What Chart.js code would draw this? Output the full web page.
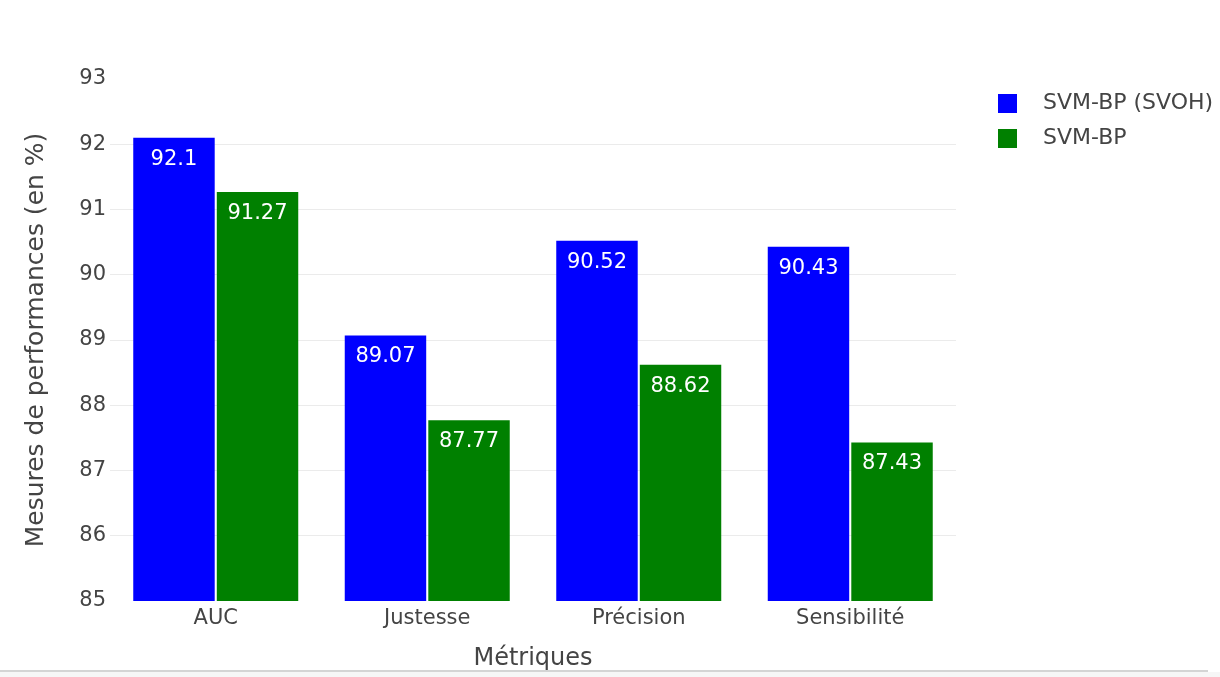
<!DOCTYPE html>
<html>
<head>
<meta charset="utf-8">
<script src="https://cdn.jsdelivr.net/npm/chart.js@4.4.0/dist/chart.umd.min.js"></script>
<style>
  body { margin: 0; background: #fff; }
  #wrap { position: relative; width: 1220px; height: 677px; }
  #bottom-line { position: absolute; left: 0; top: 670px; width: 1208px; height: 2px; background: #d4d4d4; }
  #bottom-strip { position: absolute; left: 0; top: 672px; width: 1220px; height: 5px; background: #f6f6f6; }
</style>
</head>
<body>
<div id="wrap">
  <canvas id="chart"></canvas>
  <div id="bottom-line"></div>
  <div id="bottom-strip"></div>
</div>
<script>
const categories = ['AUC', 'Justesse', 'Précision', 'Sensibilité'];
const seriesNames = ['SVM-BP (SVOH)', 'SVM-BP'];
const svohValues = [92.1, 89.07, 90.52, 90.43];
const svmValues = [91.27, 87.77, 88.62, 87.43];
const seriesColors = ['#0000ff', '#008000'];
const yMin = 85;
const yMax = 93;

const FONT = "'DejaVu Sans', Verdana, sans-serif";
const TEXT = '#444444';

// value text written inside the top of each bar
const barLabels = {
    id: 'barLabels',
    afterDatasetsDraw(chart) {
        const ctx = chart.ctx;
        ctx.save();
        ctx.font = `21px ${FONT}`;
        ctx.fillStyle = '#ffffff';
        ctx.textAlign = 'center';
        ctx.textBaseline = 'alphabetic';
        chart.data.datasets.forEach((ds, i) => {
            chart.getDatasetMeta(i).data.forEach((bar, j) => {
                ctx.fillText(String(ds.data[j]), bar.x, bar.y + 27);
            });
        });
        ctx.restore();
    }
};

// plotly-like legend on the right
const sideLegend = {
    id: 'sideLegend',
    afterDraw(chart) {
        const ctx = chart.ctx;
        ctx.save();
        ctx.font = `22px ${FONT}`;
        ctx.textAlign = 'left';
        ctx.textBaseline = 'middle';
        chart.data.datasets.forEach((ds, i) => {
            const cy = 103.5 + i * 35;
            ctx.fillStyle = ds.backgroundColor;
            ctx.fillRect(998, cy - 9.5, 19, 19);
            ctx.fillStyle = TEXT;
            ctx.fillText(ds.label, 1043, cy);
        });
        ctx.restore();
    }
};

new Chart(document.getElementById('chart'), {
    type: 'bar',
    data: {
        labels: categories,
        datasets: [
            { label: seriesNames[0], data: svohValues, backgroundColor: seriesColors[0] },
            { label: seriesNames[1], data: svmValues, backgroundColor: seriesColors[1] }
        ]
    },
    options: {
        responsive: true,
        maintainAspectRatio: false,
        animation: false,
        categoryPercentage: 0.79,
        barPercentage: 0.975,
        layout: { padding: { top: 79, right: 264, left: 0, bottom: 0 } },
        plugins: {
            legend: { display: false },
            tooltip: { enabled: false }
        },
        scales: {
            x: {
                grid: { display: false, drawTicks: false },
                border: { display: false },
                ticks: { color: TEXT, font: { family: FONT, size: 21 }, padding: 5 },
                title: {
                    display: true,
                    text: 'Métriques',
                    color: TEXT,
                    font: { family: FONT, size: 24 },
                    padding: { top: 0, bottom: 4 }
                },
                afterFit(scale) { scale.height = 76; }
            },
            y: {
                min: yMin,
                max: yMax,
                grid: {
                    drawTicks: false,
                    color: c => (c.tick.value === yMin || c.tick.value === yMax) ? 'rgba(0,0,0,0)' : '#ebebeb',
                    lineWidth: 1
                },
                border: { display: false },
                ticks: { stepSize: 1, color: TEXT, font: { family: FONT, size: 21 }, padding: 4 },
                title: {
                    display: true,
                    text: 'Mesures de performances (en %)',
                    color: TEXT,
                    font: { family: FONT, size: 25 },
                    padding: { top: 21, bottom: 0 }
                },
                afterFit(scale) { scale.width = 110; }
            }
        }
    },
    plugins: [barLabels, sideLegend]
});
</script>
</body>
</html>
